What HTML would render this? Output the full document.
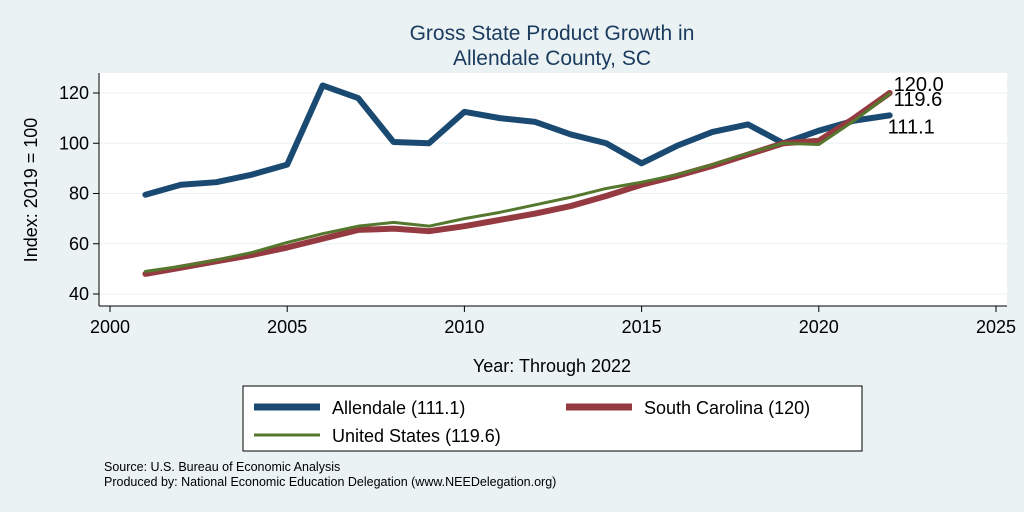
<!DOCTYPE html>
<html><head><meta charset="utf-8"><style>
body{margin:0;background:#eaf2f3;}
svg{display:block;font-family:"Liberation Sans",sans-serif;}
</style></head><body>
<svg id="chart" width="1024" height="512">
<rect width="1024" height="512" fill="#eaf2f3"/>
<text x="552" y="40" font-size="21" fill="#1a3a5e" text-anchor="middle">Gross State Product Growth in</text>
<text x="552" y="65" font-size="21" fill="#1a3a5e" text-anchor="middle">Allendale County, SC</text>
<rect x="99" y="73" width="908" height="233" fill="#fff"/>
<g id="grid"></g>
<line x1="99" y1="73" x2="99" y2="306" stroke="#000" stroke-width="1"/>
<line x1="99" y1="306" x2="1007" y2="306" stroke="#000" stroke-width="1"/>
<g id="ticks"></g>
<g id="series"></g>
<text x="37" y="190" font-size="18" text-anchor="middle" transform="rotate(-90 37 190)">Index: 2019 = 100</text>
<text x="552" y="372" font-size="18" text-anchor="middle">Year: Through 2022</text>
<g>
<rect x="243" y="386" width="619" height="65" fill="#fff" stroke="#000" stroke-width="1"/>
<line x1="254" y1="407" x2="320" y2="407" stroke="#1a4a72" stroke-width="7"/>
<text x="332" y="414" font-size="18">Allendale  (111.1)</text>
<line x1="566" y1="407" x2="632" y2="407" stroke="#953a40" stroke-width="7"/>
<text x="644" y="414" font-size="18">South Carolina (120)</text>
<line x1="254" y1="435" x2="320" y2="435" stroke="#55782e" stroke-width="3"/>
<text x="332" y="442" font-size="18">United States (119.6)</text>
</g>
<text x="104" y="471" font-size="12.5">Source: U.S. Bureau of Economic Analysis</text>
<text x="104" y="486" font-size="12.5">Produced by: National Economic Education Delegation (www.NEEDelegation.org)</text>
</svg>
<script>
const years=[2001,2002,2003,2004,2005,2006,2007,2008,2009,2010,2011,2012,2013,2014,2015,2016,2017,2018,2019,2020,2021,2022];
const allendale=[79.5,83.5,84.5,87.5,91.5,123,118,100.5,100,112.5,110,108.5,103.5,100,92,99,104.5,107.5,100,105,109,111.1];
const southCarolina=[48,50.5,53,55.5,58.5,62,65.5,66,65,67,69.5,72,75,79,83.5,87,91,95.5,100,101,110,120];
const unitedStates=[49,51,53.5,56.5,60.5,64,67,68.5,67,70,72.5,75.5,78.5,82,84.5,87.5,91.5,96,100,99.5,109,119.6];
const xTicks=[2000,2005,2010,2015,2020,2025];
const yTicks=[40,60,80,100,120];
const NS='http://www.w3.org/2000/svg';
const X=v=>110+(v-2000)*(996-110)/25;
const Y=v=>294-(v-40)*(294-93)/80;
function mk(t,a,p){const e=document.createElementNS(NS,t);for(const k in a)e.setAttribute(k,a[k]);p.appendChild(e);return e;}
const grid=document.getElementById('grid'),ticks=document.getElementById('ticks'),series=document.getElementById('series');
yTicks.forEach(v=>{
 const g=mk('line',{x1:99,x2:1007,y1:Y(v),y2:Y(v),stroke:'#eaf2f3','stroke-width':1},grid);
 
 
 mk('line',{x1:93,x2:99,y1:Y(v),y2:Y(v),stroke:'#000'},ticks);
 const t=mk('text',{x:89,y:Y(v)+6,'font-size':18,'text-anchor':'end'},ticks);t.textContent=v;
 
 
});
xTicks.forEach(v=>{
 mk('line',{x1:X(v),x2:X(v),y1:306,y2:312,stroke:'#000'},ticks);
 const t=mk('text',{x:X(v),y:333,'font-size':18,'text-anchor':'middle'},ticks);t.textContent=v;
 
 
});
function line(vals,color,w,name){
 const p=mk('polyline',{points:vals.map((v,i)=>X(years[i])+','+Y(v)).join(' '),fill:'none',stroke:color,'stroke-width':w,'stroke-linejoin':'round','stroke-linecap':'round'},series);
 
 
}
line(allendale,'#1a4a72',6,'allendale-line');
line(southCarolina,'#953a40',6,'south-carolina-line');
line(unitedStates,'#55782e',3,'united-states-line');
const last=years.length-1;
[[allendale,-6,18,'allendale-end-label'],[southCarolina,0,-2,'sc-end-label'],[unitedStates,0,12,'us-end-label']].forEach(([s,dx,dy,n])=>{
 const t=mk('text',{x:X(years[last])+4+dx,y:Y(s[last])+dy,'font-size':20},series);
 t.textContent=s[last].toFixed(1);
 
 
});
</script>
</body></html>
